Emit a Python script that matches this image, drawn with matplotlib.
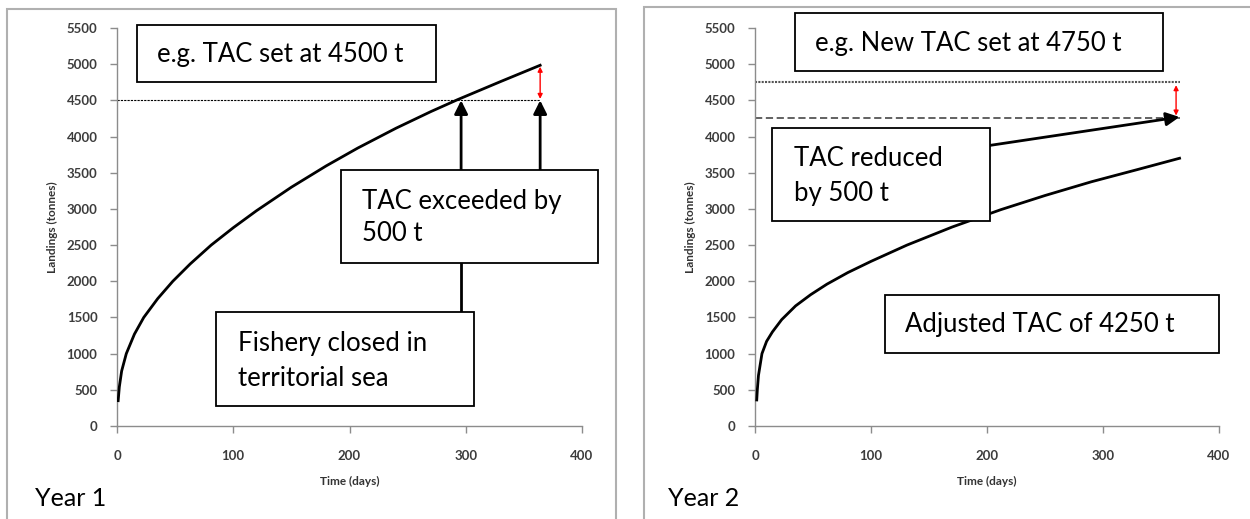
import matplotlib
matplotlib.use("Agg")
import matplotlib.pyplot as plt
from matplotlib.patches import Rectangle, FancyArrowPatch

plt.rcParams['font.family'] = ['Lato', 'DejaVu Sans']

# Year 1 landings curve (days, tonnes)
days_y1 = [1, 2, 4, 8, 15, 23, 35, 48, 63, 81, 100, 120, 150, 180, 207, 240, 270, 293, 330, 364]
land_y1 = [350, 540, 760, 1000, 1270, 1500, 1760, 2000, 2240, 2500, 2740, 2975, 3300, 3595, 3840, 4115, 4345, 4510, 4760, 4985]

# Year 2 landings curve
days_y2 = [1.5, 2, 3, 6, 10, 15, 23, 35, 48, 62, 80, 100, 131, 170, 212, 250, 290, 330, 366]
land_y2 = [360, 500, 700, 1000, 1170, 1300, 1470, 1660, 1815, 1960, 2120, 2275, 2500, 2750, 2990, 3185, 3375, 3545, 3700]

tac_y1 = 4500
tac_y2_new = 4750
tac_y2_adj = 4250

x_ticks = [0, 100, 200, 300, 400]
y_ticks = list(range(0, 5501, 500))

fig = plt.figure(figsize=(12.5, 5.19), dpi=100)

# panel frames
frame_col = '#b0b0b0'
fig.add_artist(Rectangle((7 / 1250, -0.1), (616 - 7) / 1250, 0.1 + (519 - 9) / 519,
                         transform=fig.transFigure, fill=False, ec=frame_col, lw=1.5))
fig.add_artist(Rectangle((644 / 1250, -0.1), 0.6, 0.1 + (519 - 7) / 519,
                         transform=fig.transFigure, fill=False, ec=frame_col, lw=1.5))

ax1 = fig.add_axes([117 / 1250, 93 / 519, 465 / 1250, 398 / 519])
ax2 = fig.add_axes([755 / 1250, 93 / 519, 464 / 1250, 398 / 519])


def style_axes(ax):
    ax.set_xlim(0, 400)
    ax.set_ylim(0, 5500)
    ax.set_xticks(x_ticks)
    ax.set_yticks(y_ticks)
    for s in ['top', 'right']:
        ax.spines[s].set_visible(False)
    for s in ['left', 'bottom']:
        ax.spines[s].set_color('#8c8c8c')
        ax.spines[s].set_linewidth(1.0)
    ax.tick_params(axis='both', colors='#8c8c8c', length=5, width=1.0,
                   labelcolor='#3c3c3c', labelsize=9.5)
    ax.tick_params(axis='x', pad=12)
    ax.tick_params(axis='y', pad=9)
    for lab in ax.get_xticklabels() + ax.get_yticklabels():
        lab.set_fontweight('bold')
    ax.set_xlabel('Time (days)', fontsize=8.5, fontweight='bold', color='#333333', labelpad=10)
    ax.set_ylabel('Landings (tonnes)', fontsize=8.5, fontweight='bold', color='#333333', labelpad=6)


def text_box(ax, x0, x1, y0, y1, lines, tx, ty_list):
    ax.add_patch(Rectangle((x0, y0), x1 - x0, y1 - y0, fill=True, fc='white',
                           ec='black', lw=1.3, clip_on=False, zorder=5))
    for line, ty in zip(lines, ty_list):
        ax.text(tx, ty, line, fontsize=18.5, va='center', ha='left', zorder=6, clip_on=False)


def arrow(ax, start, end, color='black', lw=2.0, style='-|>', scale=20):
    ax.add_patch(FancyArrowPatch(start, end, arrowstyle=style, mutation_scale=scale,
                                 color=color, lw=lw, clip_on=False, zorder=4,
                                 shrinkA=0, shrinkB=0))


# ---- Year 1 ----
style_axes(ax1)
ax1.plot(days_y1, land_y1, color='black', lw=2.0, zorder=3)
ax1.plot([0, days_y1[-1]], [tac_y1, tac_y1], color='black', lw=0.8, dashes=(2, 1), zorder=2)
arrow(ax1, (days_y1[-1], tac_y1 + 20), (days_y1[-1], land_y1[-1] - 20), color='red', lw=1.0,
      style='<|-|>', scale=7)

text_box(ax1, 17, 274, 4754, 5541, ['e.g. TAC set at 4500 t'], 34, [5130])
text_box(ax1, 193, 414, 2253, 3538, ['TAC exceeded by', '500 t'], 211, [3100, 2660])
text_box(ax1, 85, 307, 276, 1575, ['Fishery closed in', 'territorial sea'], 104, [1140, 660])
arrow(ax1, (296, 3538), (296, tac_y1))
arrow(ax1, (364, 3538), (364, tac_y1))
ax1.plot([296, 296], [1575, 2253], color='black', lw=2.0, zorder=4)

fig.text(35 / 1250, (519 - 498) / 519, 'Year 1', fontsize=18, va='center', ha='left')

# ---- Year 2 ----
style_axes(ax2)
ax2.plot(days_y2, land_y2, color='black', lw=2.0, zorder=3)
ax2.plot([0, 366], [tac_y2_new, tac_y2_new], color='#555555', lw=1.5, dashes=(1, 0.6), zorder=2)
ax2.plot([0, 366], [tac_y2_adj, tac_y2_adj], color='#555555', lw=1.3, dashes=(4, 2), zorder=2)
arrow(ax2, (363, tac_y2_adj + 40), (363, tac_y2_new - 40), color='red', lw=1.0,
      style='<|-|>', scale=7)

text_box(ax2, 34.5, 352, 4906, 5708, ['e.g. New TAC set at 4750 t'], 52, [5290])
text_box(ax2, 14.7, 202.6, 2833, 4118, ['TAC reduced', 'by 500 t'], 34, [3690, 3210])
text_box(ax2, 112, 400, 1009, 1810, ['Adjusted TAC of 4250 t'], 129, [1400])
arrow(ax2, (202.6, 3878), (366, 4270))

fig.text(668 / 1250, (519 - 498) / 519, 'Year 2', fontsize=18, va='center', ha='left')

fig.savefig('out.png', dpi=100)
